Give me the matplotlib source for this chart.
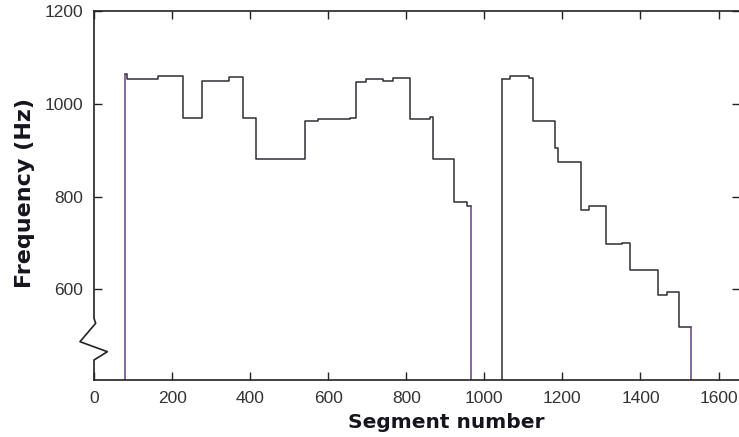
import numpy as np
import matplotlib
matplotlib.use('Agg')
import matplotlib.pyplot as plt
from matplotlib.lines import Line2D

# segment boundaries (segment number) and frequency (Hz) held on each step
seg1_edges = [80, 84, 165, 228, 277, 346, 383, 415, 541, 574, 656, 671, 697, 740,
              766, 810, 860, 868, 922, 955, 966]
seg1_freq = [1064, 1054, 1059, 970, 1050, 1057, 970, 881, 963, 967, 970, 1048, 1054,
             1050, 1055, 967, 972, 882, 788, 780]

seg2_edges = [1045, 1066, 1115, 1125, 1181, 1190, 1247, 1268, 1312, 1352, 1372, 1444,
              1469, 1500, 1529]
seg2_freq = [1053, 1059, 1055, 964, 905, 874, 772, 779, 698, 701, 641, 589, 594, 520]

x_ticks = [0, 200, 400, 600, 800, 1000, 1200, 1400, 1600]
y_ticks = [600, 800, 1000, 1200]
y_min, y_max = 405, 1200
x_min, x_max = 0, 1655

line_col = '#2e2e36'
drop_col = '#66407a'

fig = plt.figure(figsize=(7.39, 4.37), dpi=100)
ax = fig.add_axes([94/739, 57/437, 646/739, 369/437])

ax.step(seg1_edges, seg1_freq + [seg1_freq[-1]], where='post', color=line_col, lw=1.1)
ax.step(seg2_edges, seg2_freq + [seg2_freq[-1]], where='post', color=line_col, lw=1.1)
ax.vlines([seg1_edges[0], seg1_edges[-1], seg2_edges[-1]], y_min,
          [seg1_freq[0], seg1_freq[-1], seg2_freq[-1]], color=drop_col, lw=1.1)
ax.vlines([seg2_edges[0]], y_min, [seg2_freq[0]], color=line_col, lw=1.1)

ax.set_xlim(x_min, x_max)
ax.set_ylim(y_min, y_max)
ax.set_xticks(x_ticks)
ax.set_yticks(y_ticks)

tick_font = dict(family='Liberation Sans', size=12.5)
ax.set_xticklabels([str(t) for t in x_ticks], fontdict=tick_font, color='#333333')
ax.set_yticklabels([str(t) for t in y_ticks], fontdict=tick_font, color='#333333')
ax.tick_params(direction='in', length=6, width=1.0, color='#222222', pad=8,
               top=True, right=True)

for s in ['top', 'bottom', 'right']:
    ax.spines[s].set_linewidth(1.2)
    ax.spines[s].set_color('#222222')
ax.spines['left'].set_visible(False)

# left axis with break mark
bx = [0, 0, 0.0026, -0.0217, 0.0207, 0, 0]
by = [1, 0.1672, 0.1537, 0.1038, 0.0767, 0.0542, 0]
ax.add_line(Line2D(bx, by, transform=ax.transAxes, clip_on=False,
                   color='#222222', lw=1.2))

ax.set_xlabel('Segment number', fontsize=14.5, fontweight='bold', color='#151520')
ax.xaxis.set_label_coords((446 - 94) / 646, -(413 - 380) / 369)
ax.set_ylabel('Frequency (Hz)', fontsize=16, fontweight='bold', color='#151520')
ax.yaxis.set_label_coords(-(94 - 35) / 646, (380 - 193) / 369)

plt.savefig('out.png', dpi=100)
